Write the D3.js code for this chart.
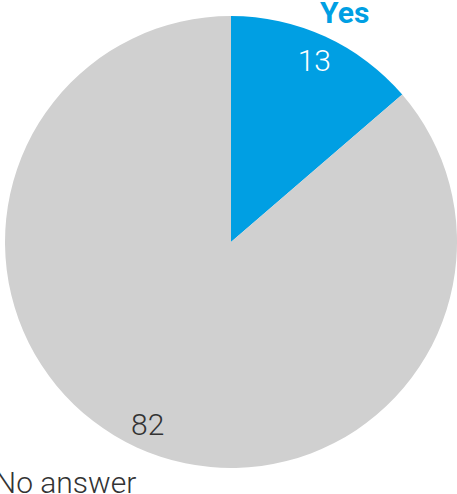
<!DOCTYPE html>
<html>
<head>
<meta charset="utf-8">
<script src="https://cdn.jsdelivr.net/npm/d3@7/dist/d3.min.js"></script>
<style>
  html, body { margin: 0; padding: 0; background: #fff; }
  svg { display: block; }
</style>
</head>
<body>
<svg id="chart" width="457" height="494"></svg>
<script>
// Survey answers
const categories = ["Yes", "No answer"];
const values = [13, 82];
const colors = ["#009fe3", "#d0d0d0"];
const innerLabelColors = ["#ffffff", "#333333"];
const outerLabelColors = ["#009fe3", "#333333"];
const outerLabelWeights = [700, 300];

const width = 457, height = 494;
const cx = 231, cy = 242, radius = 226;

const svg = d3.select("#chart");
const g = svg.append("g").attr("transform", `translate(${cx},${cy})`);

const pie = d3.pie().sort(null).value(d => d.value);
const data = pie(categories.map((c, i) => ({ name: c, value: values[i], i })));

const arc = d3.arc().innerRadius(0).outerRadius(radius);
const valueArc = d3.arc().innerRadius(200).outerRadius(200);
const nameArc = d3.arc().innerRadius(256).outerRadius(256);

g.selectAll("path.slice")
  .data(data)
  .join("path")
  .attr("class", "slice")
  .attr("d", arc)
  .attr("fill", d => colors[d.data.i]);

// value labels inside each slice
g.selectAll("text.value")
  .data(data)
  .join("text")
  .attr("class", "value")
  .attr("transform", d => `translate(${valueArc.centroid(d)})`)
  .attr("text-anchor", "middle")
  .attr("dy", "0.36em")
  .attr("font-family", "Roboto, sans-serif")
  .attr("font-weight", 300)
  .attr("font-size", 30)
  .attr("fill", d => innerLabelColors[d.data.i])
  .text(d => d.data.value);

// category names outside the pie
g.selectAll("text.name")
  .data(data)
  .join("text")
  .attr("class", "name")
  .attr("transform", d => {
    const [x, y] = nameArc.centroid(d);
    return x >= 0 ? `translate(${x + 7},${y + 3})` : `translate(${x + 12},${y + 7})`;
  })
  .attr("text-anchor", d => nameArc.centroid(d)[0] >= 0 ? "middle" : "end")
  .attr("dy", "0.36em")
  .attr("font-family", "Roboto, sans-serif")
  .attr("font-weight", d => outerLabelWeights[d.data.i])
  .attr("font-size", 30)
  .attr("fill", d => outerLabelColors[d.data.i])
  .text(d => d.data.name);
</script>
</body>
</html>
